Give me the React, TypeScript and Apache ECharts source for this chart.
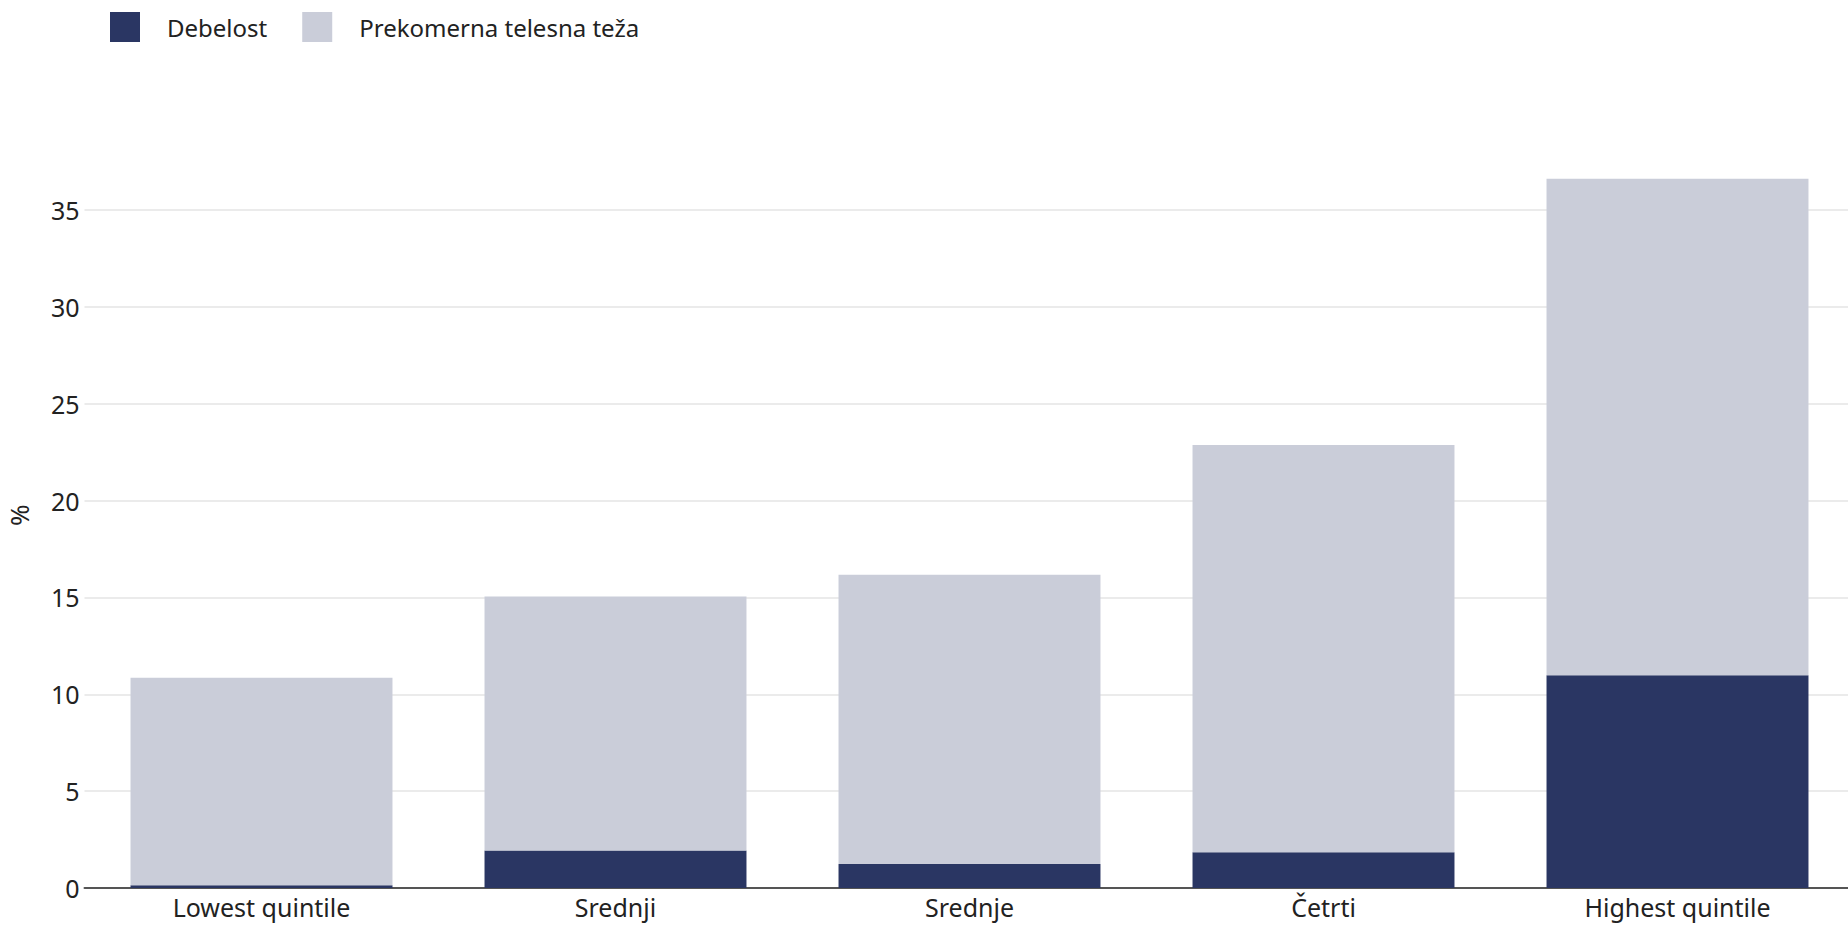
import React, { useEffect, useRef } from "react";
import * as echarts from "echarts";

const categories = ["Lowest quintile", "Srednji", "Srednje", "Četrti", "Highest quintile"];
const debelost = [0.14, 1.93, 1.24, 1.84, 10.98];
const prekomerna = [10.72, 13.12, 14.93, 21.03, 25.64];
const seriesNames = ["Debelost", "Prekomerna telesna teža"];
const yTicks = [0, 5, 10, 15, 20, 25, 30, 35];

const FONT = "'Noto Sans', sans-serif";
const DARK = "#2a3663";
const LIGHT = "#cacdd9";

export default function App() {
  const ref = useRef<HTMLDivElement>(null);
  useEffect(() => {
    document.body.style.margin = "0";
    if (!ref.current) return;
    const chart = echarts.init(ref.current, null, { renderer: "svg" });
    const yMax = 38.5;
    const gridColors = yTicks.map(() => "#ebebeb").concat(["rgba(0,0,0,0)"]);
    chart.setOption({
      animation: false,
      textStyle: { fontFamily: FONT },
      legend: {
        left: 105,
        top: 7,
        itemWidth: 30,
        itemHeight: 30,
        itemGap: 35,
        icon: "rect",
        data: seriesNames,
        textStyle: { fontFamily: FONT, fontSize: 24, color: "#222", padding: [0, 0, 0, 22] },
      },
      grid: {
        left: 84.5,
        right: -6.5,
        top: 888 - yMax * 19.37,
        bottom: 43,
        containLabel: false,
        outerBoundsMode: "none",
      },
      xAxis: {
        type: "category",
        data: categories,
        axisLine: { show: true, lineStyle: { color: "#555", width: 2 } },
        axisTick: { show: false },
        axisLabel: { fontFamily: FONT, fontSize: 25, color: "#222", margin: 6 },
      },
      yAxis: {
        type: "value",
        min: 0,
        max: yMax,
        interval: 5,
        name: "%",
        nameLocation: "middle",
        nameGap: 53,
        nameTextStyle: { fontFamily: FONT, fontSize: 26, color: "#222" },
        axisLine: { show: false },
        axisTick: { show: false },
        axisLabel: {
          fontFamily: FONT,
          fontSize: 25,
          color: "#222",
          margin: 5,
          showMaxLabel: false,
          formatter: (v: number) => (yTicks.includes(v) ? String(v) : ""),
        },
        splitLine: { show: true, lineStyle: { color: gridColors, width: 2 } },
      },
      series: [
        {
          name: seriesNames[0],
          type: "bar",
          stack: "total",
          data: debelost,
          barCategoryGap: "26%",
          itemStyle: { color: DARK },
        },
        {
          name: seriesNames[1],
          type: "bar",
          stack: "total",
          data: prekomerna,
          barCategoryGap: "26%",
          itemStyle: { color: LIGHT },
        },
      ],
    });
    return () => chart.dispose();
  }, []);
  return <div ref={ref} style={{ width: 1848, height: 931 }} />;
}
